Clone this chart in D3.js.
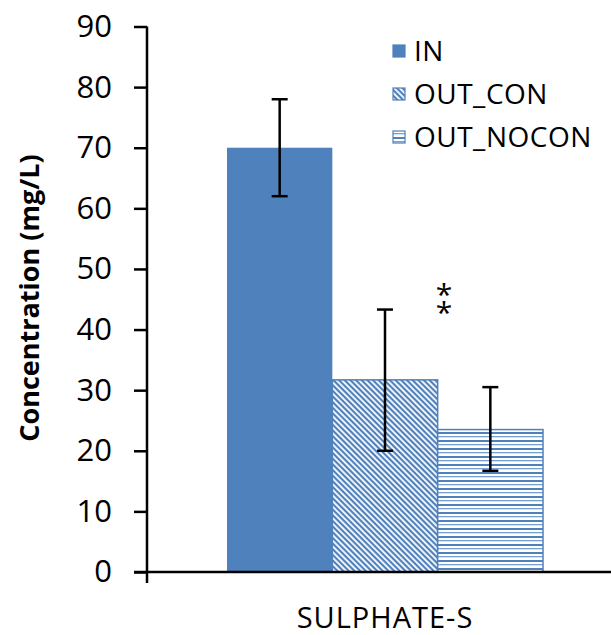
<!DOCTYPE html>
<html>
<head>
<meta charset="utf-8">
<script src="https://cdn.jsdelivr.net/npm/d3@7"></script>
<style>
  body { margin: 0; background: #fff; }
  text { font-family: "Open Sans", "DejaVu Sans", sans-serif; }
</style>
</head>
<body>
<svg id="chart" width="611" height="635"></svg>
<script>
// data
const category = 'SULPHATE-S';
const series = ['IN', 'OUT_CON', 'OUT_NOCON'];
const means = [70, 31.7, 23.5];
const errLow = [62, 20, 16.7];
const errHigh = [78, 43.3, 30.5];
const yTicks = [0, 10, 20, 30, 40, 50, 60, 70, 80, 90];

const blue = '#4f81bd';
const svg = d3.select('#chart');

// patterns for the hatched bars
const defs = svg.append('defs');
const diag = defs.append('pattern')
  .attr('id', 'pat-diag')
  .attr('patternUnits', 'userSpaceOnUse')
  .attr('width', 4).attr('height', 4)
  .attr('patternTransform', 'rotate(45)');
diag.append('rect').attr('width', 4).attr('height', 4).attr('fill', '#fff');
diag.append('rect').attr('width', 4).attr('height', 2.2).attr('fill', blue);

const horiz = defs.append('pattern')
  .attr('id', 'pat-horiz')
  .attr('patternUnits', 'userSpaceOnUse')
  .attr('width', 8).attr('height', 8);
horiz.append('rect').attr('width', 8).attr('height', 8).attr('fill', '#fff');
horiz.append('rect').attr('y', 0).attr('width', 8).attr('height', 2).attr('fill', blue);
horiz.append('rect').attr('y', 4).attr('width', 8).attr('height', 1.3).attr('fill', '#7a9fd0');

const fills = [blue, 'url(#pat-diag)', 'url(#pat-horiz)'];

// scales
const y = d3.scaleLinear().domain([0, 90]).range([572, 26.5]);
const x0 = d3.scaleBand().domain([category]).range([147, 611]);
const x1 = d3.scaleBand().domain(series).range([227, 543]);

const g = svg.append('g');

// bars
g.selectAll('.bar')
  .data(series)
  .join('rect')
  .attr('class', 'bar')
  .attr('x', d => x1(d))
  .attr('width', x1.bandwidth())
  .attr('y', (d, i) => y(means[i]))
  .attr('height', (d, i) => y(0) - y(means[i]))
  .attr('fill', (d, i) => fills[i])
  .attr('stroke', (d, i) => i === 0 ? 'none' : blue)
  .attr('stroke-width', 1.5);

// error bars
const eb = g.selectAll('.err')
  .data(series)
  .join('g')
  .attr('class', 'err')
  .attr('transform', d => `translate(${x1(d) + x1.bandwidth() / 2},0)`);
eb.append('line')
  .attr('y1', (d, i) => y(errLow[i]))
  .attr('y2', (d, i) => y(errHigh[i]))
  .attr('stroke', '#000').attr('stroke-width', 2.5);
eb.append('line')
  .attr('x1', -8).attr('x2', 8)
  .attr('y1', (d, i) => y(errLow[i])).attr('y2', (d, i) => y(errLow[i]))
  .attr('stroke', '#000').attr('stroke-width', 2.5);
eb.append('line')
  .attr('x1', -8).attr('x2', 8)
  .attr('y1', (d, i) => y(errHigh[i])).attr('y2', (d, i) => y(errHigh[i]))
  .attr('stroke', '#000').attr('stroke-width', 2.5);

// y axis
const yAxis = svg.append('g')
  .attr('transform', 'translate(147,0)')
  .call(d3.axisLeft(y).tickValues(yTicks).tickSize(13).tickPadding(22));
yAxis.select('.domain').remove();
yAxis.append('line')
  .attr('y1', y(90)).attr('y2', 583)
  .attr('stroke', '#000').attr('stroke-width', 2.5);
yAxis.selectAll('.tick line').attr('stroke', '#000').attr('stroke-width', 2.5);
yAxis.selectAll('.tick text')
  .attr('fill', '#000')
  .style('font-size', '31px');

// x axis
const xAxis = svg.append('g')
  .attr('transform', 'translate(0,572)');
xAxis.append('line')
  .attr('x1', 134).attr('x2', 611)
  .attr('stroke', '#000').attr('stroke-width', 2.5);
xAxis.append('text')
  .attr('x', x0(category) + x0.bandwidth() / 2 + 6)
  .attr('y', 56)
  .attr('text-anchor', 'middle')
  .style('font-size', '29px')
  .style('letter-spacing', '1px')
  .text(category);

// y label
svg.append('text')
  .attr('transform', 'translate(39,298) rotate(-90)')
  .attr('text-anchor', 'middle')
  .style('font-size', '27px')
  .style('font-weight', 'bold')
  .text('Concentration (mg/L)');

// significance marker
const sig = svg.append('text')
  .attr('text-anchor', 'middle')
  .style('font-size', '30px');
sig.append('tspan').attr('x', 444).attr('y', 305).text('*');
sig.append('tspan').attr('x', 444).attr('y', 323).text('*');

// legend
const leg = svg.append('g')
  .selectAll('g')
  .data(series)
  .join('g')
  .attr('transform', (d, i) => `translate(393,${51 + i * 43})`);
leg.append('rect')
  .attr('x', 0).attr('y', -6).attr('width', 12).attr('height', 12)
  .attr('fill', (d, i) => fills[i])
  .attr('stroke', blue).attr('stroke-width', 1.2);
leg.append('text')
  .attr('x', 21).attr('y', 0).attr('dy', '0.35em')
  .style('font-size', '28px')
  .style('letter-spacing', '0.5px')
  .text(d => d);
</script>
</body>
</html>
